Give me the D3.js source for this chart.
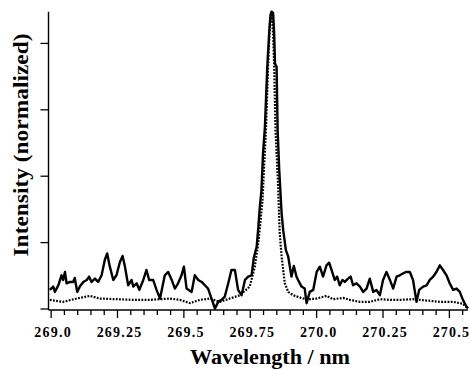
<!DOCTYPE html>
<html>
<head>
<meta charset="utf-8">
<script src="https://cdn.jsdelivr.net/npm/d3@7"></script>
<style>
  body { margin: 0; background: #fff; }
  svg { display: block; }
  .lbl { font-family: "Liberation Serif", "Times New Roman", serif; font-weight: bold; fill: #000; }
</style>
</head>
<body>
<svg width="470" height="369"></svg>
<script>
// measured spectrum (solid) : wavelength nm / normalized intensity
var solidX = [268.997,269.010,269.016,269.029,269.041,269.047,269.054,269.060,269.073,269.085,
  269.091,269.100,269.110,269.123,269.136,269.145,269.154,269.167,269.179,269.192,
  269.204,269.213,269.223,269.236,269.248,269.261,269.271,269.280,269.292,269.305,
  269.311,269.324,269.334,269.349,269.361,269.371,269.386,269.399,269.412,269.430,
  269.443,269.456,269.468,269.480,269.493,269.502,269.512,269.531,269.543,269.556,
  269.569,269.581,269.593,269.606,269.619,269.631,269.644,269.656,269.669,269.681,
  269.694,269.706,269.719,269.732,269.744,269.757,269.765,269.776,269.782,269.788,
  269.794,269.800,269.807,269.816,269.823,269.828,269.832,269.838,269.842,269.845,
  269.851,269.855,269.861,269.870,269.876,269.886,269.895,269.901,269.907,269.916,
  269.926,269.932,269.945,269.957,269.964,269.976,269.989,270.002,270.014,270.026,
  270.039,270.049,270.058,270.070,270.079,270.089,270.099,270.108,270.120,270.130,
  270.139,270.152,270.165,270.177,270.190,270.202,270.215,270.227,270.240,270.252,
  270.265,270.278,270.290,270.303,270.315,270.328,270.338,270.353,270.365,270.378,
  270.388,270.403,270.416,270.428,270.441,270.453,270.466,270.478,270.491,270.503,
  270.516,270.529,270.541,270.553,270.566,270.572];
var solidY = [0.28,0.33,0.25,0.35,0.50,0.43,0.55,0.38,0.40,0.40,
  0.46,0.25,0.33,0.40,0.43,0.48,0.40,0.45,0.40,0.50,
  0.73,0.83,0.63,0.43,0.50,0.70,0.79,0.63,0.35,0.43,
  0.33,0.38,0.28,0.43,0.58,0.43,0.43,0.28,0.15,0.50,
  0.55,0.43,0.30,0.38,0.50,0.63,0.30,0.25,0.50,0.43,
  0.40,0.35,0.30,0.15,0.00,0.10,0.13,0.18,0.38,0.58,
  0.58,0.28,0.20,0.43,0.48,0.50,0.76,0.93,1.21,1.53,
  1.78,2.34,2.73,3.64,4.14,4.42,4.47,4.45,4.14,3.69,
  3.64,2.69,2.09,1.43,1.18,0.88,0.78,0.63,0.48,0.64,
  0.48,0.43,0.33,0.30,0.08,0.25,0.28,0.55,0.63,0.48,
  0.65,0.69,0.58,0.43,0.48,0.35,0.43,0.40,0.45,0.48,
  0.35,0.38,0.33,0.25,0.30,0.45,0.25,0.28,0.20,0.43,
  0.55,0.43,0.30,0.48,0.50,0.53,0.55,0.55,0.43,0.10,
  0.28,0.33,0.35,0.43,0.48,0.55,0.65,0.58,0.50,0.38,
  0.28,0.30,0.25,0.13,0.03,0.00];

// calculated profile (dotted)
var dotX = [268.997,269.047,269.098,269.148,269.186,269.248,269.311,269.374,269.449,269.487,
  269.525,269.562,269.600,269.637,269.675,269.713,269.750,269.769,269.782,269.791,
  269.798,269.811,269.819,269.826,269.832,269.838,269.842,269.847,269.857,269.861,
  269.863,269.870,269.882,269.895,269.913,269.951,269.976,270.002,270.039,270.064,
  270.102,270.127,270.165,270.202,270.240,270.278,270.315,270.365,270.416,270.466,
  270.516,270.553,270.572];
var dotY = [0.13,0.10,0.15,0.19,0.15,0.14,0.13,0.13,0.15,0.13,
  0.08,0.13,0.15,0.10,0.15,0.20,0.33,0.63,0.98,1.33,
  1.63,2.69,3.64,4.30,4.47,4.14,3.64,2.69,1.83,1.33,
  1.13,0.78,0.38,0.25,0.20,0.15,0.14,0.15,0.19,0.14,
  0.16,0.13,0.10,0.10,0.14,0.13,0.13,0.14,0.12,0.10,
  0.10,0.07,0.00];

var majorTicks = [269.0, 269.25, 269.5, 269.75, 270.0, 270.25, 270.5];
var majorLabels = ["269.0", "269.25", "269.5", "269.75", "270.0", "270.25", "270.5"];
var yTicks = [0, 1, 2, 3, 4];

var svg = d3.select('svg');

var x = d3.scaleLinear().domain([268.992, 270.572]).range([48.5, 468]);
var y = d3.scaleLinear().domain([0, 4.47]).range([308.5, 11.7]);
var axisY = 310;

// minor ticks every 0.05 nm
var minorTicks = d3.range(0, 32).map(function(i) { return +(269 + i * 0.05).toFixed(2); })
  .filter(function(v) { return majorTicks.indexOf(v) < 0; });

var gx = svg.append('g').attr('transform', 'translate(0,' + axisY + ')');
gx.call(d3.axisBottom(x).tickValues(minorTicks).tickSize(5).tickFormat(''))
  .call(function(g) { g.select('.domain').remove(); });
var gxMaj = svg.append('g').attr('transform', 'translate(0,' + axisY + ')');
gxMaj.call(d3.axisBottom(x).tickValues(majorTicks).tickSize(8)
    .tickFormat(function(d, i) { return majorLabels[i]; }))
  .call(function(g) { g.select('.domain').remove(); });
gxMaj.selectAll('text')
  .attr('class', 'lbl')
  .attr('y', 26.5).attr('dy', 0).attr('dx', 2)
  .style('font-size', '14px').style('letter-spacing', '1.2px');
svg.selectAll('.tick line').attr('stroke', '#000').attr('stroke-width', 1.3);

var gy = svg.append('g').attr('transform', 'translate(48.5,0)');
gy.call(d3.axisLeft(y).tickValues(yTicks).tickSize(8).tickFormat(''))
  .call(function(g) { g.select('.domain').remove(); });
gy.selectAll('.tick line').attr('stroke', '#000').attr('stroke-width', 1.3);

// axis lines
svg.append('line').attr('x1', 48.5).attr('x2', 48.5).attr('y1', y.range()[1]).attr('y2', axisY)
  .attr('stroke', '#000').attr('stroke-width', 1.4);
svg.append('line').attr('x1', 48.5).attr('x2', x.range()[1]).attr('y1', axisY).attr('y2', axisY)
  .attr('stroke', '#000').attr('stroke-width', 1.4);

var line = d3.line()
  .x(function(d) { return x(d[0]); })
  .y(function(d) { return y(d[1]); });

var dotData = dotX.map(function(v, i) { return [v, dotY[i]]; });
var solidData = solidX.map(function(v, i) { return [v, solidY[i]]; });

svg.append('path').datum(dotData)
  .attr('d', line).attr('fill', 'none')
  .attr('stroke', '#000').attr('stroke-width', 2.2)
  .attr('stroke-dasharray', '1.8,1.4');

svg.append('path').datum(solidData)
  .attr('d', line).attr('fill', 'none')
  .attr('stroke', '#000').attr('stroke-width', 2.4)
  .attr('stroke-linejoin', 'round');

// axis titles
svg.append('text').attr('class', 'lbl')
  .attr('x', 270).attr('y', 364)
  .attr('text-anchor', 'middle')
  .attr('textLength', 160).attr('lengthAdjust', 'spacingAndGlyphs')
  .style('font-size', '21px')
  .text('Wavelength / nm');

svg.append('text').attr('class', 'lbl')
  .attr('transform', 'translate(27.5,145) rotate(-90)')
  .attr('text-anchor', 'middle')
  .attr('textLength', 223).attr('lengthAdjust', 'spacingAndGlyphs')
  .style('font-size', '21px')
  .text('Intensity (normalized)');
</script>
</body>
</html>
